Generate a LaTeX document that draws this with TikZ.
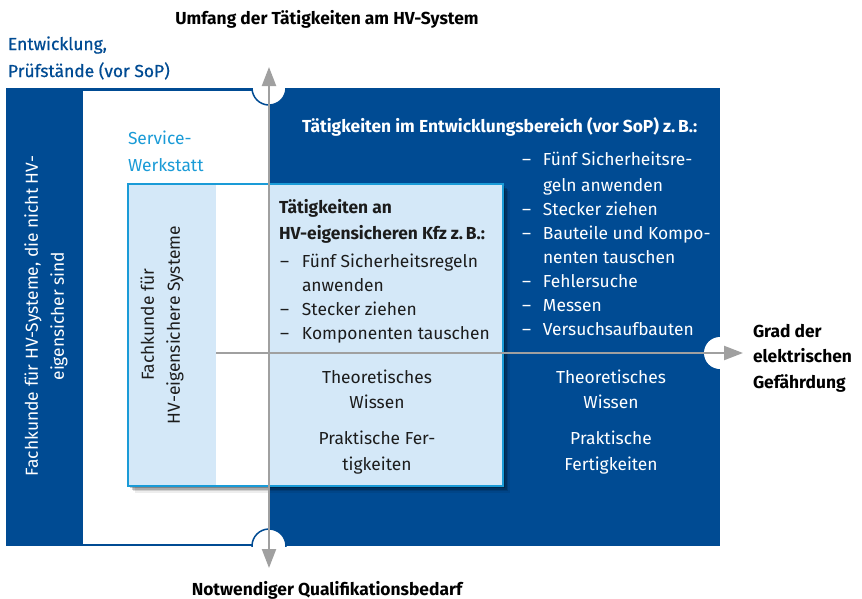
\documentclass[tikz,border=0pt]{standalone}
\usepackage{fontspec}
\setmainfont{Fira Sans}
\newfontfamily\firamed[FakeBold=0.6]{Fira Sans}
\usetikzlibrary{arrows.meta}
\definecolor{dgblue}{RGB}{0,75,147}
\definecolor{dglight}{RGB}{212,232,248}
\definecolor{dgcyan}{RGB}{26,155,215}
\definecolor{dggray}{RGB}{160,160,160}
\definecolor{dgtext}{RGB}{28,28,28}
\begin{document}
\begin{tikzpicture}[x=1pt,y=-1pt,
  txt/.style={inner sep=0pt, outer sep=0pt, font=\fontsize{17.4}{24}\selectfont},
  btxt/.style={txt, font=\fontsize{17.4}{24}\selectfont\bfseries},
  axis/.style={dggray, line width=2.2pt, >={Triangle[width=14pt,length=19pt]}},
  notch/.style={fill=white, draw=dgblue, line width=1.5pt}]
\useasboundingbox (0,0) rectangle (862,598);
\fill[white] (0,0) rectangle (862,598);
% main blue field and white service region
\fill[dgblue] (6,88) rectangle (720,546);
\fill[white] (83,90.5) rectangle (269,543.5);
% notches
\begin{scope}
  \clip (240,88) rectangle (300,120);
  \draw[notch] (269,88) circle[radius=17];
\end{scope}
\begin{scope}
  \clip (240,515) rectangle (300,546);
  \draw[notch] (269,546) circle[radius=17];
\end{scope}
\begin{scope}
  \clip (690,330) rectangle (720,380);
  \fill[white] (720,353) circle[radius=16];
\end{scope}
% shadow of inner box
\foreach \d/\o in {2/0.22,3.5/0.18,5/0.12,6.5/0.07}{
  \fill[black, opacity=\o] (128+\d,184+\d) rectangle (503+\d,486+\d);
}
% inner box
\draw[fill=dglight, draw=dgcyan, line width=2pt] (128,184) rectangle (503,486);
\fill[white] (216,185) rectangle (269,485);
% axes
\coordinate (vtop) at (269,67);
\coordinate (vbot) at (269,568);
\coordinate (hstart) at (216,353);
\coordinate (hend) at (743,353);
\draw[axis, <->] (vtop) -- (vbot);
\draw[axis, ->] (hstart) -- (hend);
% titles
\node[btxt, anchor=base] (ttop) at (327,24) {Umfang der Tätigkeiten am HV-System};
\node[btxt, anchor=base] (tbot) at (327,595) {Notwendiger Qualifikationsbedarf};
\node[txt, font=\fontsize{17.4}{24}\firamed, text=dgblue, anchor=base west] (entw) at (8,50) {\begin{tabular}[t]{@{}l@{}}Entwicklung,\\[3pt]Prüfstände (vor SoP)\end{tabular}};
\node[txt, text=dgcyan, anchor=base west] (serv) at (128,144) {\begin{tabular}[t]{@{}l@{}}Service-\\[3pt]Werkstatt\end{tabular}};
\node[btxt, anchor=base west] (grad) at (753,337) {\begin{tabular}[t]{@{}l@{}}Grad der\\[1.5pt]elektrischen\\[1.5pt]Gefährdung\end{tabular}};
% rotated texts
\node[txt, text=white, rotate=90] (fkl) at (46,316) {\begin{tabular}{@{}c@{}}Fachkunde für HV-Systeme, die nicht HV-\\[2pt]eigensicher sind\end{tabular}};
\node[txt, text=dgtext, rotate=90] (fki) at (162,325) {\begin{tabular}{@{}c@{}}Fachkunde für\\[2pt]HV-eigensichere Systeme\end{tabular}};
% right region
\node[btxt, text=white, anchor=base west] (rhead) at (302,132) {Tätigkeiten im Entwicklungsbereich (vor SoP) z.\,B.:};
\node[txt, text=white, anchor=base west] (rlist) at (522,165) {\begin{tabular}[t]{@{}p{21pt}@{}l@{}}
–& Fünf Sicherheitsre-\\[2pt]
 & geln anwenden\\
–& Stecker ziehen\\
–& Bauteile und Kompo-\\
 & nenten tauschen\\
–& Fehlersuche\\
–& Messen\\
–& Versuchsaufbauten
\end{tabular}};
\node[txt, text=white, anchor=base] (rtheo) at (611,383) {\begin{tabular}[t]{@{}c@{}}Theoretisches\\[1pt]Wissen\end{tabular}};
\node[txt, text=white, anchor=base] (rprak) at (611,444) {\begin{tabular}[t]{@{}c@{}}Praktische\\[2pt]Fertigkeiten\end{tabular}};
% inner box texts
\node[btxt, text=dgtext, anchor=base west] (ihead) at (279,213) {\begin{tabular}[t]{@{}l@{}}Tätigkeiten an\\[2pt]HV-eigensicheren Kfz z.\,B.:\end{tabular}};
\node[txt, text=dgtext, anchor=base west] (ilist) at (280,267) {\begin{tabular}[t]{@{}p{22pt}@{}l@{}}
–& Fünf Sicherheitsregeln\\
 & anwenden\\
–& Stecker ziehen\\
–& Komponenten tauschen
\end{tabular}};
\node[txt, text=dgtext, anchor=base] (itheo) at (377,383) {\begin{tabular}[t]{@{}c@{}}Theoretisches\\[1pt]Wissen\end{tabular}};
\node[txt, text=dgtext, anchor=base] (iprak) at (377,444) {\begin{tabular}[t]{@{}c@{}}Praktische Fer-\\[2pt]tigkeiten\end{tabular}};
\end{tikzpicture}
\end{document}
